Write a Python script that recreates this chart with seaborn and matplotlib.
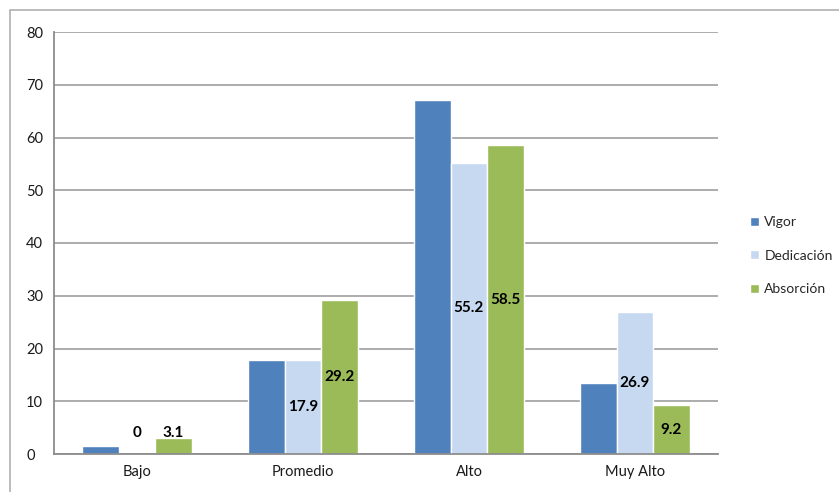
import pandas as pd
import matplotlib
matplotlib.use('Agg')
import matplotlib.pyplot as plt
import seaborn as sns
from matplotlib.patches import Rectangle

# data
categories = ['Bajo', 'Promedio', 'Alto', 'Muy Alto']
series = ['Vigor', 'Dedicación', 'Absorción']
vigor = [1.5, 17.9, 67.2, 13.4]
dedicacion = [0, 17.9, 55.2, 26.9]
absorcion = [3.1, 29.2, 58.5, 9.2]
colors = ['#4F81BD', '#C6D9F1', '#9BBB59']
labelled = ['Dedicación', 'Absorción']

df = pd.DataFrame({
    'nivel': categories * 3,
    'serie': [s for s in series for _ in categories],
    'valor': vigor + dedicacion + absorcion,
})

sns.set_style('white')
plt.rcParams['font.family'] = ['Lato', 'DejaVu Sans']

fig = plt.figure(figsize=(8.39, 4.92), dpi=100)
ax = fig.add_axes([54 / 839, 1 - 454 / 492, (718 - 54) / 839, (454 - 32) / 492])

sns.barplot(data=df, x='nivel', y='valor', hue='serie', order=categories,
            hue_order=series, palette=colors, width=0.66, saturation=1,
            edgecolor='white', linewidth=1, ax=ax)

ax.set_ylim(0, 80)
ax.set_yticks(range(0, 81, 10))
ax.set_xlim(-0.5, 3.5)
ax.set_xlabel('')
ax.set_ylabel('')
ax.yaxis.grid(True, color='#a6a6a6', linewidth=1.3)
ax.set_axisbelow(True)
for side in ['top', 'right']:
    ax.spines[side].set_visible(False)
for side in ['left', 'bottom']:
    ax.spines[side].set_color('#8c8c8c')
    ax.spines[side].set_linewidth(1.3)
ax.tick_params(axis='both', length=0, labelsize=10.5, colors='#1a1a1a')
ax.tick_params(axis='x', pad=8)
ax.tick_params(axis='y', pad=20)
for t in ax.get_yticklabels():
    t.set_horizontalalignment('left')

# value labels for Dedicación and Absorción, centred in the bar
for container, name in zip(ax.containers, series):
    if name not in labelled:
        continue
    for patch in container.patches:
        h = patch.get_height()
        y = max(h / 2, 4)
        ax.text(patch.get_x() + patch.get_width() / 2, y, f'{h:g}',
                ha='center', va='center', fontsize=11, fontweight='bold',
                color='black')

leg = ax.legend(loc='center left', bbox_to_anchor=(1.03, 0.47), frameon=False,
                fontsize=10, handlelength=0.6, handleheight=0.6,
                handletextpad=0.4, labelspacing=1.55)

# outer chart border like the spreadsheet chart area
fig.patches.append(Rectangle((10 / 839, -0.05), 1.0, 1 - 10 / 492 + 0.05,
                             transform=fig.transFigure, fill=False,
                             edgecolor='#b0b0b0', linewidth=1.2))

fig.savefig('out.png', dpi=100)
